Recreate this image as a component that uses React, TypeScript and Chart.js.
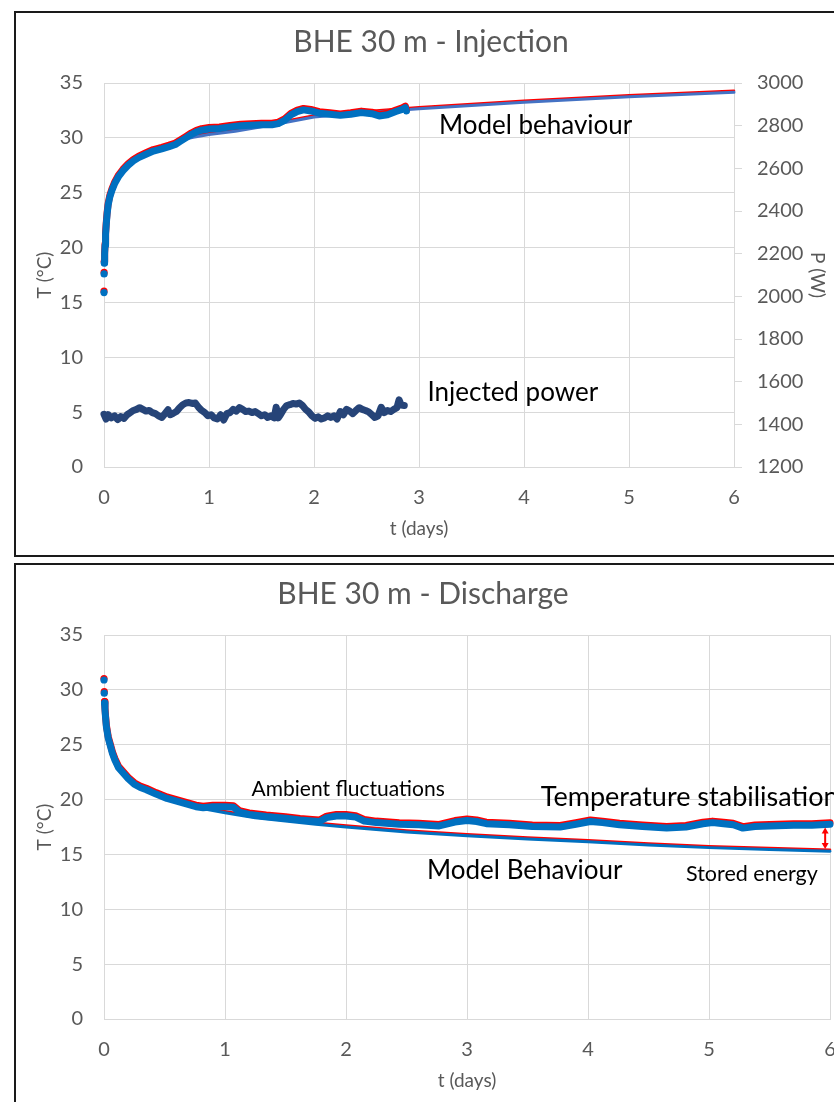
import { useEffect, useRef } from "react";
import { Chart, registerables } from "chart.js";

Chart.register(...registerables);

// ---- Injection test (BHE 30 m) ----
// measured fluid temperature, °C, against time in days
const injTime = [
  0, 0.001, 0.003, 0.006, 0.01, 0.015, 0.022, 0.03, 0.04, 0.055, 0.075, 0.1, 0.14, 0.18, 0.23, 0.28,
  0.33, 0.4, 0.47, 0.55, 0.62, 0.68, 0.73, 0.78, 0.83, 0.88, 0.93, 1.0, 1.1, 1.2, 1.3, 1.4, 1.5,
  1.6, 1.66, 1.72, 1.78, 1.84, 1.9, 1.97, 2.05, 2.15, 2.25, 2.35, 2.45, 2.55, 2.62, 2.7, 2.78,
  2.84, 2.87, 2.88,
];
const injTemp = [
  15.9, 17.6, 18.6, 19.4, 20.2, 21.2, 22.2, 23.1, 23.9, 24.6, 25.2, 25.8, 26.5, 27.0, 27.5, 27.9,
  28.2, 28.5, 28.8, 29.0, 29.2, 29.4, 29.7, 30.0, 30.3, 30.55, 30.7, 30.8, 30.85, 31.0, 31.1, 31.15, 31.2,
  31.2, 31.3, 31.6, 32.1, 32.4, 32.55, 32.45, 32.25, 32.15, 32.05, 32.15, 32.3, 32.2, 32.0, 32.1, 32.4,
  32.6, 32.75, 32.45,
];

// model response for the injection test
const injModelTime = [0.75, 0.85, 1.0, 1.25, 1.5, 1.75, 2.0, 2.5, 3.0, 3.5, 4.0, 4.5, 5.0, 5.5, 6.0];
const injModelTemp = [29.85, 30.05, 30.3, 30.6, 31.0, 31.45, 31.9, 32.3, 32.65, 32.95, 33.25, 33.5, 33.75, 33.95, 34.15];

// injected power, W
const powerTime = [
  0, 0.02, 0.04, 0.07, 0.1, 0.13, 0.16, 0.19, 0.22, 0.25, 0.28, 0.31, 0.34, 0.37, 0.4, 0.43, 0.46,
  0.49, 0.52, 0.55, 0.58, 0.61, 0.63, 0.66, 0.69, 0.72, 0.75, 0.78, 0.81, 0.84, 0.87, 0.9, 0.93,
  0.96, 0.99, 1.02, 1.05, 1.08, 1.11, 1.14, 1.17, 1.2, 1.23, 1.26, 1.29, 1.32, 1.35, 1.38, 1.41,
  1.44, 1.47, 1.5, 1.53, 1.56, 1.59, 1.62, 1.64, 1.66, 1.68, 1.71, 1.74, 1.77, 1.8, 1.83, 1.86,
  1.89, 1.92, 1.95, 1.98, 2.01, 2.04, 2.07, 2.1, 2.13, 2.16, 2.19, 2.22, 2.25, 2.28, 2.31, 2.34,
  2.37, 2.4, 2.43, 2.46, 2.49, 2.52, 2.55, 2.58, 2.61, 2.64, 2.67, 2.7, 2.73, 2.76, 2.79, 2.81,
  2.83, 2.86,
];
const powerW = [
  1447, 1425, 1445, 1430, 1440, 1422, 1436, 1428, 1445, 1455, 1465, 1470, 1478, 1470, 1462, 1465, 1455,
  1450, 1440, 1432, 1450, 1468, 1445, 1452, 1460, 1478, 1492, 1500, 1502, 1498, 1500, 1480, 1465,
  1455, 1440, 1445, 1430, 1425, 1445, 1420, 1450, 1455, 1470, 1462, 1478, 1470, 1460, 1462, 1455,
  1460, 1450, 1440, 1445, 1432, 1440, 1430, 1480, 1430, 1445, 1470, 1488, 1492, 1498, 1495, 1500,
  1488, 1470, 1458, 1440, 1428, 1435, 1425, 1430, 1440, 1432, 1440, 1425, 1460, 1445, 1470, 1462,
  1450, 1465, 1478, 1470, 1465, 1458, 1445, 1432, 1440, 1480, 1455, 1465, 1460, 1470, 1478, 1515,
  1490, 1488,
];

// ---- Discharge test (BHE 30 m) ----
const disTime = [
  0, 0.002, 0.005, 0.008, 0.012, 0.02, 0.035, 0.05, 0.07, 0.09, 0.12, 0.16, 0.2, 0.25, 0.3, 0.35,
  0.43, 0.52, 0.6, 0.68, 0.76, 0.82, 0.9, 1.0, 1.07, 1.12, 1.2, 1.34, 1.5, 1.62, 1.72, 1.78, 1.84,
  1.92, 2.0, 2.08, 2.15, 2.25, 2.44, 2.6, 2.77, 2.9, 3.0, 3.08, 3.16, 3.35, 3.54, 3.77, 3.9, 4.02,
  4.12, 4.26, 4.45, 4.65, 4.81, 4.95, 5.03, 5.12, 5.2, 5.28, 5.38, 5.5, 5.7, 5.85, 6.0,
];
const disTemp = [
  30.9, 29.7, 28.8, 28.2, 27.6, 26.6, 25.6, 25.0, 24.2, 23.6, 22.9, 22.4, 21.9, 21.4, 21.1, 20.9,
  20.5, 20.1, 19.85, 19.6, 19.35, 19.25, 19.35, 19.35, 19.3, 18.85, 18.65, 18.45, 18.3, 18.15, 18.05, 18.0, 18.35,
  18.5, 18.5, 18.4, 18.05, 17.9, 17.75, 17.7, 17.6, 17.95, 18.1, 18.0, 17.8, 17.7, 17.55, 17.5, 17.75, 18.0,
  17.9, 17.7, 17.55, 17.4, 17.5, 17.8, 17.9, 17.8, 17.7, 17.4, 17.55, 17.6, 17.65, 17.65, 17.75,
];

// model response for the discharge test
const disModelTime = [0.6, 0.8, 1.0, 1.25, 1.5, 1.75, 2.0, 2.5, 3.0, 3.5, 4.0, 4.5, 5.0, 5.5, 6.0];
const disModelTemp = [19.85, 19.2, 18.8, 18.35, 18.05, 17.75, 17.5, 17.05, 16.7, 16.4, 16.15, 15.85, 15.62, 15.45, 15.3];

const BLUE = "#0070C0";
const MODEL_BLUE = "#4472C4";
const RED = "#FF0000";
const NAVY = "#264478";
const GRID = "#d9d9d9";
const GREY_TEXT = "#595959";
const FONT = "Lato";

const xy = (xs: number[], ys: number[]) => xs.map((x, i) => ({ x, y: ys[i] }));

// draws datasets flagged with `lift` a little higher so both coloured traces stay visible
const liftPlugin = {
  id: "lift",
  beforeDatasetDraw(chart: any, args: any) {
    const ds = chart.data.datasets[args.index];
    if (ds.lift) {
      chart.ctx.save();
      chart.ctx.translate(0, -ds.lift);
    }
  },
  afterDatasetDraw(chart: any, args: any) {
    const ds = chart.data.datasets[args.index];
    if (ds.lift) chart.ctx.restore();
  },
};

// free text labels placed in data coordinates, plus an optional double arrow
const notesPlugin = {
  id: "notes",
  afterDatasetsDraw(chart: any, _args: any, opts: any) {
    const { ctx, scales } = chart;
    const xs = scales.x;
    const ys = scales.y;
    for (const n of opts.items || []) {
      ctx.save();
      ctx.font = `${n.size}px ${FONT}`;
      ctx.fillStyle = "#000";
      ctx.textAlign = "left";
      ctx.textBaseline = "middle";
      ctx.fillText(n.text, xs.getPixelForValue(n.x), ys.getPixelForValue(n.y));
      ctx.restore();
    }
    const a = opts.arrow;
    if (a) {
      const px = xs.getPixelForValue(a.x);
      const p1 = ys.getPixelForValue(a.y1);
      const p2 = ys.getPixelForValue(a.y2);
      ctx.save();
      ctx.strokeStyle = a.color;
      ctx.fillStyle = a.color;
      ctx.lineWidth = 2;
      ctx.beginPath();
      ctx.moveTo(px, p1 + 4);
      ctx.lineTo(px, p2 - 4);
      ctx.stroke();
      ctx.beginPath();
      ctx.moveTo(px, p1);
      ctx.lineTo(px - 3.5, p1 + 6);
      ctx.lineTo(px + 3.5, p1 + 6);
      ctx.closePath();
      ctx.fill();
      ctx.beginPath();
      ctx.moveTo(px, p2);
      ctx.lineTo(px - 3.5, p2 - 6);
      ctx.lineTo(px + 3.5, p2 - 6);
      ctx.closePath();
      ctx.fill();
      ctx.restore();
    }
  },
};

const tickFont = { family: FONT, size: 20 };
const axisTitleFont = { family: FONT, size: 19 };
const plainNumber = (v: any) => String(v);

function measuredSet(data: { x: number; y: number }[], color: string, order: number, dots: number, lift = 0) {
  return {
    data,
    showLine: true,
    borderColor: color,
    backgroundColor: color,
    borderWidth: 7,
    borderCapStyle: "round",
    borderJoinStyle: "round",
    pointRadius: (c: any) => (c.dataIndex < dots ? 3.6 : 0),
    pointHoverRadius: 0,
    pointBorderWidth: 0,
    pointBackgroundColor: color,
    segment: { borderColor: (c: any) => (c.p0DataIndex < dots - 1 ? "transparent" : undefined) },
    clip: false,
    order,
    lift,
    yAxisID: "y",
  };
}

function lineSet(data: { x: number; y: number }[], color: string, width: number, order: number, lift = 0, axis = "y") {
  return {
    data,
    showLine: true,
    borderColor: color,
    backgroundColor: color,
    borderWidth: width,
    borderCapStyle: "round",
    borderJoinStyle: "round",
    pointRadius: 0,
    pointHoverRadius: 0,
    clip: false,
    order,
    lift,
    yAxisID: axis,
  };
}

function xScale() {
  return {
    type: "linear",
    min: 0,
    max: 6,
    ticks: { stepSize: 1, color: GREY_TEXT, font: tickFont, padding: 19, callback: plainNumber },
    grid: { color: GRID, drawTicks: false },
    border: { color: GRID },
    title: { display: true, text: "t (days)", color: GREY_TEXT, font: axisTitleFont, padding: { top: 0, bottom: 15 } },
    afterFit: (s: any) => {
      s.height = 88;
      s.paddingLeft = 0;
      s.paddingRight = 0;
    },
  };
}

function yScale() {
  return {
    type: "linear",
    position: "left",
    min: 0,
    max: 35,
    ticks: { stepSize: 5, color: GREY_TEXT, font: tickFont, padding: 21, callback: plainNumber },
    grid: { color: GRID, drawTicks: false },
    border: { color: GRID },
    title: { display: true, text: "T (°C)", color: GREY_TEXT, font: axisTitleFont, padding: { top: 17, bottom: 0 } },
    afterFit: (s: any) => {
      s.width = 88;
      s.paddingTop = 0;
      s.paddingBottom = 0;
    },
  };
}

function titleOpts(text: string) {
  return {
    display: true,
    text,
    color: GREY_TEXT,
    font: { family: FONT, size: 30, weight: "normal" },
    padding: { top: 11, bottom: 23 },
  };
}

function injectionConfig(): any {
  return {
    type: "scatter",
    data: {
      datasets: [
        measuredSet(xy(injTime, injTemp), BLUE, 0, 3),
        measuredSet(xy(injTime, injTemp), RED, 1, 3, 1.5),
        lineSet(xy(injModelTime, injModelTemp), MODEL_BLUE, 3, 2),
        lineSet(xy(injModelTime, injModelTemp), RED, 2.5, 3, 1.5),
        lineSet(xy(powerTime, powerW), NAVY, 7, 4, 0, "yP"),
      ],
    },
    options: {
      responsive: false,
      animation: false,
      devicePixelRatio: 1,
      layout: { padding: 0 },
      events: [],
      plugins: {
        legend: { display: false },
        tooltip: { enabled: false },
        title: titleOpts("BHE 30 m - Injection"),
        notes: {
          items: [
            { text: "Model behaviour", x: 3.19, y: 31.1, size: 26 },
            { text: "Injected power", x: 3.08, y: 6.8, size: 26 },
          ],
        },
      },
      scales: {
        x: xScale(),
        y: yScale(),
        yP: {
          type: "linear",
          position: "right",
          min: 1200,
          max: 3000,
          ticks: { stepSize: 200, color: GREY_TEXT, font: tickFont, padding: 15, callback: plainNumber },
          grid: { color: GRID, drawOnChartArea: false, tickLength: 8 },
          border: { color: GRID },
          title: { display: true, text: "P (W)", color: GREY_TEXT, font: axisTitleFont, padding: { top: 17, bottom: 0 } },
          afterFit: (s: any) => {
            s.width = 112;
            s.paddingTop = 0;
            s.paddingBottom = 0;
          },
        },
      },
    },
    plugins: [liftPlugin, notesPlugin],
  };
}

function dischargeConfig(): any {
  return {
    type: "scatter",
    data: {
      datasets: [
        measuredSet(xy(disTime, disTemp), BLUE, 0, 3),
        measuredSet(xy(disTime, disTemp), RED, 1, 3, 1.5),
        lineSet(xy(disModelTime, disModelTemp), BLUE, 3, 2),
        lineSet(xy(disModelTime, disModelTemp), RED, 2.5, 3, 1.5),
      ],
    },
    options: {
      responsive: false,
      animation: false,
      devicePixelRatio: 1,
      layout: { padding: { left: 0, top: 0, bottom: 0, right: 16 } },
      events: [],
      plugins: {
        legend: { display: false },
        tooltip: { enabled: false },
        title: titleOpts("BHE 30 m - Discharge"),
        notes: {
          items: [
            { text: "Ambient fluctuations", x: 1.22, y: 20.97, size: 21 },
            { text: "Temperature stabilisation", x: 3.61, y: 20.2, size: 27 },
            { text: "Model Behaviour", x: 2.67, y: 13.5, size: 26 },
            { text: "Stored energy", x: 4.81, y: 13.2, size: 21.5 },
          ],
          arrow: { x: 5.96, y1: 17.45, y2: 15.5, color: RED },
        },
      },
      scales: {
        x: xScale(),
        y: yScale(),
      },
    },
    plugins: [liftPlugin, notesPlugin],
  };
}

const CANVAS_W = 830;
const CANVAS_H = 542;

function Panel({ top, makeConfig }: { top: number; makeConfig: () => any }) {
  const ref = useRef<HTMLCanvasElement | null>(null);
  useEffect(() => {
    if (!ref.current) return;
    const chart = new Chart(ref.current, makeConfig());
    return () => chart.destroy();
  }, [makeConfig]);
  return (
    <div
      style={{
        position: "absolute",
        left: 14,
        top,
        width: CANVAS_W + 4,
        height: CANVAS_H + 4,
        border: "2px solid #1a1a1a",
        boxSizing: "border-box",
        background: "#fff",
      }}
    >
      <canvas ref={ref} width={CANVAS_W} height={CANVAS_H} style={{ display: "block", width: CANVAS_W, height: CANVAS_H }} />
    </div>
  );
}

export default function App() {
  return (
    <div
      style={{
        position: "absolute",
        left: 0,
        top: 0,
        width: 834,
        height: 1102,
        overflow: "hidden",
        background: "#fff",
      }}
    >
      <Panel top={11} makeConfig={injectionConfig} />
      <Panel top={563} makeConfig={dischargeConfig} />
    </div>
  );
}
